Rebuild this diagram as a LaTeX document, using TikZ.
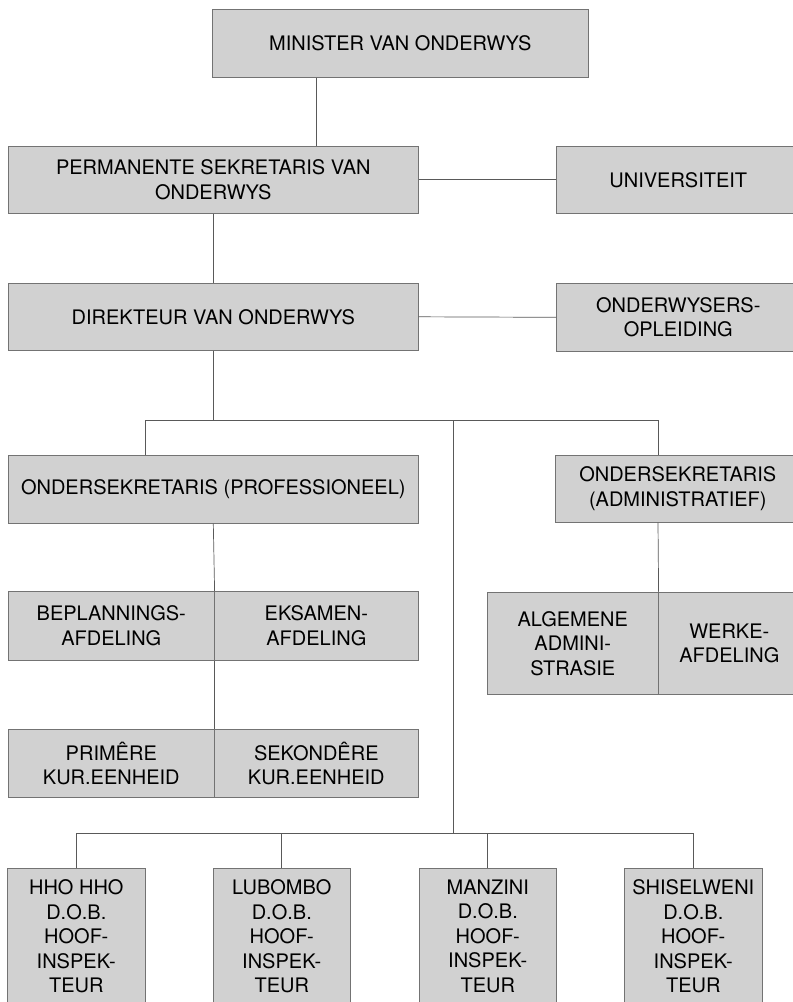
\documentclass[tikz,border=0pt]{standalone}
\usepackage{fontspec}
\setmainfont{TeX Gyre Heros}
\begin{document}
\begin{tikzpicture}[x=1pt,y=-1pt,
  orgbox/.style={draw=black!55, fill=black!18, line width=0.6pt, inner sep=0pt,
    anchor=north west, align=center, text=black,
    font=\fontsize{20}{24.5}\selectfont},
  link/.style={draw=black!65, line width=0.7pt}]
\useasboundingbox (0,0) rectangle (793,1002);
% boxes
\node[orgbox, minimum width=376pt, minimum height=68pt] (min) at (212,9) {MINISTER VAN ONDERWYS};
\node[orgbox, minimum width=410pt, minimum height=67pt] (perm) at (8,146) {PERMANENTE SEKRETARIS VAN\\ONDERWYS};
\node[orgbox, minimum width=244pt, minimum height=67pt] (univ) at (556,146) {UNIVERSITEIT};
\node[orgbox, minimum width=410pt, minimum height=67pt] (dir) at (8,283) {DIREKTEUR VAN ONDERWYS};
\node[orgbox, minimum width=244pt, minimum height=68pt] (opl) at (556,283) {ONDERWYSERS-\\OPLEIDING};
\node[orgbox, minimum width=410pt, minimum height=68pt] (prof) at (8,455) {ONDERSEKRETARIS (PROFESSIONEEL)};
\node[orgbox, minimum width=245pt, minimum height=67pt] (adm) at (555,455) {ONDERSEKRETARIS\\(ADMINISTRATIEF)};
\node[orgbox, minimum width=206pt, minimum height=69pt] (bepl) at (8,591) {BEPLANNINGS-\\AFDELING};
\node[orgbox, minimum width=204pt, minimum height=69pt] (eks) at (214,591) {EKSAMEN-\\AFDELING};
\node[orgbox, minimum width=171pt, minimum height=102pt] (alg) at (487,592) {ALGEMENE\\ADMINI-\\STRASIE};
\node[orgbox, minimum width=142pt, minimum height=102pt] (werke) at (658,592) {WERKE-\\AFDELING};
\node[orgbox, minimum width=206pt, minimum height=68pt] (prim) at (8,729) {PRIMÊRE\\KUR.EENHEID};
\node[orgbox, minimum width=204pt, minimum height=68pt] (sek) at (214,729) {SEKONDÊRE\\KUR.EENHEID};
\node[orgbox, minimum width=138pt, minimum height=136pt] (hho) at (7,868) {HHO HHO\\D.O.B.\\HOOF-\\INSPEK-\\TEUR};
\node[orgbox, minimum width=137pt, minimum height=136pt] (lub) at (213,868) {LUBOMBO\\D.O.B.\\HOOF-\\INSPEK-\\TEUR};
\node[orgbox, minimum width=137pt, minimum height=136pt] (man) at (419,868) {MANZINI\\D.O.B.\\HOOF-\\INSPEK-\\TEUR};
\node[orgbox, minimum width=138pt, minimum height=136pt] (shi) at (624,868) {SHISELWENI\\D.O.B.\\HOOF-\\INSPEK-\\TEUR};
% helper coordinates
\coordinate (cm) at (316,0);
\coordinate (busL) at (145,420);
\coordinate (busR) at (658,420);
\coordinate (busM) at (453,420);
\coordinate (low) at (453,833);
\coordinate (lowL) at (77,833);
\coordinate (lowR) at (693,833);
% connectors
\draw[link] (min.south -| cm) -- (perm.north -| cm);
\draw[link] (perm.east) -- (univ.west);
\draw[link] (perm.south) -- (dir.north);
\draw[link] (dir.east) -- (opl.west);
\draw[link] (dir.south) -- (dir.south |- busL);
\draw[link] (prof.north -| busL) -- (busL) -- (busR) -- (adm.north -| busR);
\draw[link] (busM) -- (low);
\draw[link] (adm.south -| busR) -- (alg.north east);
\draw[link] (prof.south) -- (bepl.north east);
\draw[link] (bepl.south east) -- (prim.north east);
\draw[link] (lowL) -- (lowR);
\draw[link] (hho.north) -- (hho.north |- low);
\draw[link] (lub.north) -- (lub.north |- low);
\draw[link] (man.north) -- (man.north |- low);
\draw[link] (shi.north) -- (shi.north |- low);
\end{tikzpicture}
\end{document}
